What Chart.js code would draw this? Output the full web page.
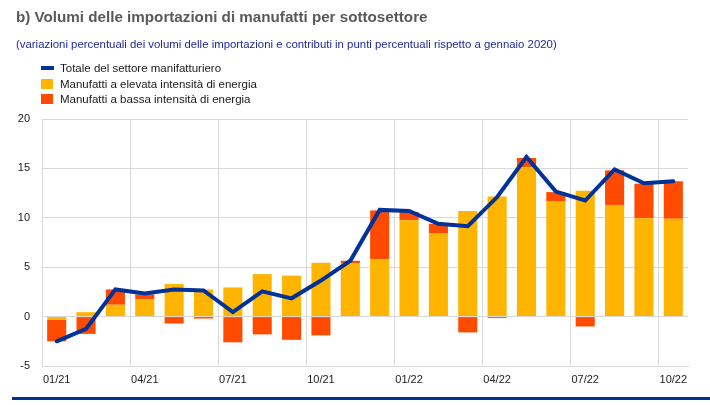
<!DOCTYPE html>
<html>
<head>
<meta charset="utf-8">
<script src="https://cdn.jsdelivr.net/npm/chart.js@4.4.1/dist/chart.umd.min.js"></script>
<style>
  body { margin: 0; background: #fff; font-family: "Liberation Sans", Arial, sans-serif; }
  #wrap { position: relative; width: 710px; height: 405px; overflow: hidden; }
  #chart { position: absolute; left: 0; top: 0; }
  .title { position: absolute; left: 16px; top: 8px; font-size: 15.2px; font-weight: bold; color: #595959; white-space: nowrap; }
  .subtitle { position: absolute; left: 16px; top: 38px; font-size: 11.4px; color: #1f2a99; white-space: nowrap; }
  #legend { position: absolute; left: 41px; top: 61px; font-size: 11.5px; color: #1a1a1a; }
  .item { position: relative; height: 15.5px; line-height: 15px; padding-left: 19px; white-space: nowrap; }
  .item span { position: absolute; left: 0; }
  .rule { position: absolute; left: 12px; top: 397px; width: 698px; height: 3px; background: #003299; }
</style>
</head>
<body>
<div id="wrap">
  <canvas id="chart" width="710" height="405"></canvas>
  <div class="title">b) Volumi delle importazioni di manufatti per sottosettore</div>
  <div class="subtitle">(variazioni percentuali dei volumi delle importazioni e contributi in punti percentuali rispetto a gennaio 2020)</div>
  <div id="legend"></div>
  <div class="rule"></div>
</div>
<script>
const months = ['01/21', '02/21', '03/21', '04/21', '05/21', '06/21', '07/21', '08/21', '09/21', '10/21', '11/21',
                '12/21', '01/22', '02/22', '03/22', '04/22', '05/22', '06/22', '07/22', '08/22', '09/22', '10/22'];

const seriesNames = ['Totale del settore manifatturiero', 'Manufatti a elevata intensità di energia', 'Manufatti a bassa intensità di energia'];

// contributi (punti percentuali)
const highEnergy = [-0.3, 0.45, 1.2, 1.75, 3.3, 2.75, 2.95, 4.3, 4.15, 5.45, 5.4,
                    5.8, 9.75, 8.45, 10.7, 12.15, 15.1, 11.7, 12.75, 11.3, 9.95, 9.9];
const lowEnergy = [-2.2, -1.75, 1.55, 0.5, -0.7, -0.2, -2.6, -1.8, -2.35, -1.9, 0.25,
                   4.95, 0.85, 0.95, -1.6, -0.15, 0.95, 0.9, -1.0, 3.5, 3.5, 3.8];
// totale (variazione %)
const total = [-2.5, -1.25, 2.75, 2.35, 2.75, 2.65, 0.45, 2.55, 1.85, 3.65, 5.65,
               10.8, 10.7, 9.4, 9.15, 12.1, 16.15, 12.65, 11.75, 14.9, 13.5, 13.7];

const BLUE = '#003299';
const YELLOW = '#FFB400';
const RED = '#FF4B00';
const GRID = '#d9d9d9';
const FONT = '"Liberation Sans", Arial, sans-serif';

// legenda html
const legendDiv = document.getElementById('legend');
const legendColors = [BLUE, YELLOW, RED];
legendDiv.innerHTML = seriesNames.map((name, i) => {
    const box = i === 0
        ? `<span style="top:5px;width:13px;height:4px;background:${legendColors[i]}"></span>`
        : `<span style="top:2px;width:12px;height:10px;background:${legendColors[i]}"></span>`;
    return `<div class="item">${box}${name}</div>`;
}).join('');

new Chart(document.getElementById('chart').getContext('2d'), {
    data: {
        labels: months,
        datasets: [
            {
                type: 'line',
                label: seriesNames[0],
                data: total,
                borderColor: BLUE,
                backgroundColor: BLUE,
                borderWidth: 4,
                pointRadius: 0,
                tension: 0,
                borderCapStyle: 'round',
                stack: 'tot',
                order: 0
            },
            {
                type: 'bar',
                label: seriesNames[1],
                data: highEnergy,
                backgroundColor: YELLOW,
                categoryPercentage: 1,
                barPercentage: 0.65,
                order: 1
            },
            {
                type: 'bar',
                label: seriesNames[2],
                data: lowEnergy,
                backgroundColor: RED,
                categoryPercentage: 1,
                barPercentage: 0.65,
                order: 1
            }
        ]
    },
    options: {
        responsive: false,
        animation: false,
        layout: { padding: { top: 119, left: 0, right: 22, bottom: 0 } },
        plugins: { legend: { display: false }, tooltip: { enabled: false } },
        scales: {
            x: {
                stacked: true,
                offset: true,
                grid: {
                    offset: true,
                    drawTicks: false,
                    color: ctx => (ctx.index % 3 === 0 ? GRID : 'rgba(0,0,0,0)')
                },
                border: { display: true, color: GRID },
                ticks: {
                    autoSkip: false,
                    maxRotation: 0,
                    padding: 7,
                    color: '#222',
                    font: { size: 11, family: FONT },
                    callback: (v, i) => (i % 3 === 0 ? months[i] : '')
                },
                afterFit: s => { s.height = 39; }
            },
            y: {
                stacked: true,
                min: -5,
                max: 20,
                grid: { color: GRID, drawTicks: false },
                border: { display: false },
                ticks: {
                    stepSize: 5,
                    padding: 12,
                    color: '#222',
                    font: { size: 11, family: FONT }
                },
                afterFit: s => { s.width = 42; }
            }
        }
    }
});
</script>
</body>
</html>
